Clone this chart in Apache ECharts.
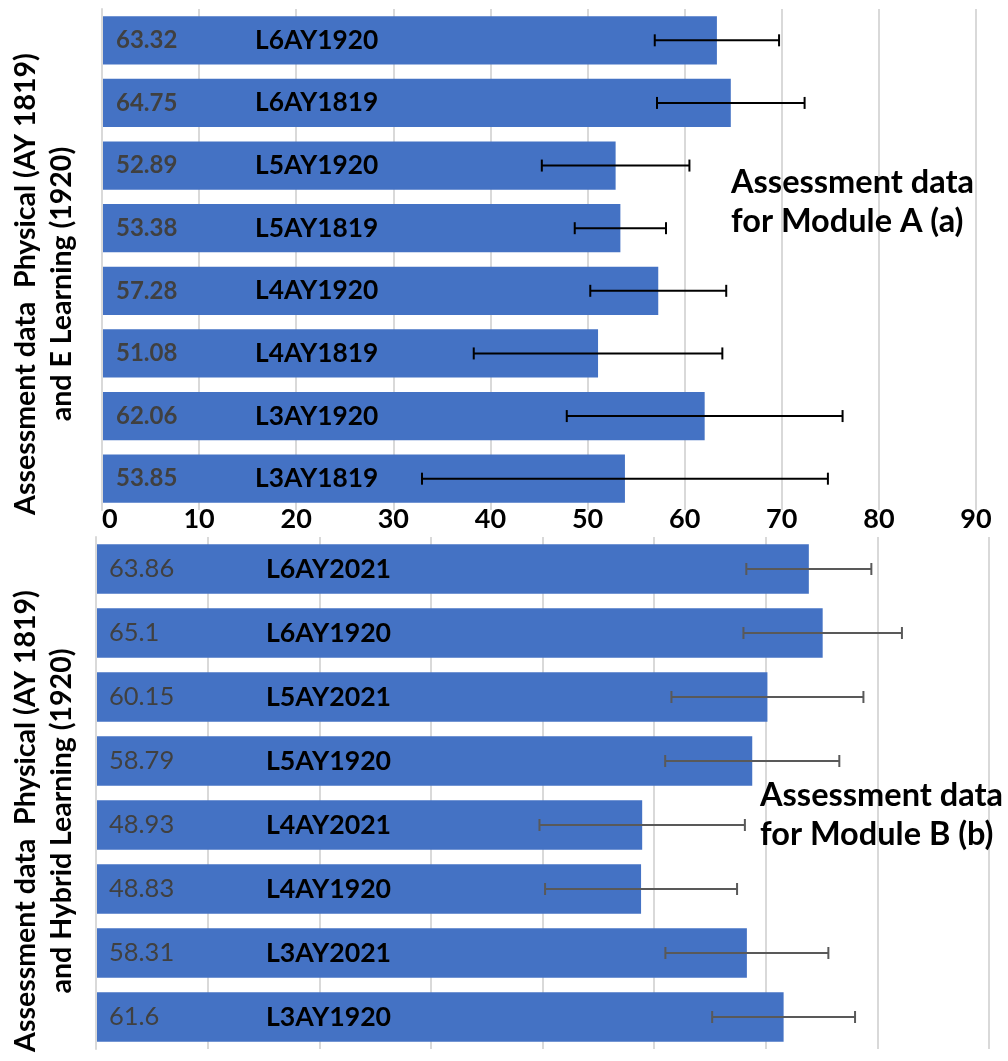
<!DOCTYPE html>
<html>
<head>
<meta charset="utf-8">
<script src="https://cdn.jsdelivr.net/npm/echarts@6/dist/echarts.min.js"></script>
<style>
html,body{margin:0;padding:0;background:#fff;}
#chart{width:1008px;height:1061px;}
</style>
</head>
<body>
<div id="chart"></div>
<script>
// ---- Data (top to bottom as displayed) ----
var catsA = ['L6AY1920', 'L6AY1819', 'L5AY1920', 'L5AY1819', 'L4AY1920', 'L4AY1819', 'L3AY1920', 'L3AY1819'];
var valsA = [63.32, 64.75, 52.89, 53.38, 57.28, 51.08, 62.06, 53.85];
var errA  = [6.4, 7.6, 7.6, 4.7, 7.0, 12.8, 14.2, 20.9];

var catsB = ['L6AY2021', 'L6AY1920', 'L5AY2021', 'L5AY1920', 'L4AY2021', 'L4AY1920', 'L3AY2021', 'L3AY1920'];
var valsB = [63.86, 65.1, 60.15, 58.79, 48.93, 48.83, 58.31, 61.6];
var errB  = [5.6, 7.1, 8.6, 7.8, 9.2, 8.6, 7.3, 6.4];

var xTicksA = [0, 10, 20, 30, 40, 50, 60, 70, 80, 90];

var titleA = 'Assessment data\nfor Module A (a)';
var titleB = 'Assessment data\nfor Module B (b)';
var yNameA = 'Assessment data  Physical (AY 1819)\nand E Learning (1920)';
var yNameB = 'Assessment data  Physical (AY 1819)\nand Hybrid Learning (1920)';

// ---- Build ----
var FONT = 'Lato, Carlito, "Open Sans", sans-serif';
var BAR = '#4472C4';
var GRIDC = '#d9d9d9';

function errData(vals, errs) {
  return vals.map(function (v, i) { return [i, v - errs[i], v + errs[i]]; });
}
function errRender(color, cap, lw) {
  return function (params, api) {
    var idx = api.value(0);
    var p1 = api.coord([api.value(1), idx]);
    var p2 = api.coord([api.value(2), idx]);
    var st = { stroke: color, lineWidth: lw };
    return {
      type: 'group',
      children: [
        { type: 'line', shape: { x1: p1[0], y1: p1[1], x2: p2[0], y2: p2[1] }, style: st },
        { type: 'line', shape: { x1: p1[0], y1: p1[1] - cap, x2: p1[0], y2: p1[1] + cap }, style: st },
        { type: 'line', shape: { x1: p2[0], y1: p2[1] - cap, x2: p2[0], y2: p2[1] + cap }, style: st }
      ]
    };
  };
}

var chart = echarts.init(document.getElementById('chart'), null, { renderer: 'canvas' });
chart.setOption({
  animation: false,
  backgroundColor: '#fff',
  textStyle: { fontFamily: FONT },
  title: [
    { text: titleA, left: 731, top: 163, padding: 0,
      textStyle: { fontFamily: FONT, fontSize: 32.5, fontWeight: 'bold', color: '#000', lineHeight: 39 } },
    { text: titleB, left: 760, top: 776, padding: 0,
      textStyle: { fontFamily: FONT, fontSize: 32.5, fontWeight: 'bold', color: '#000', lineHeight: 39 } }
  ],
  grid: [
    { left: 101, right: 32, top: 9, height: 501, containLabel: false },
    { left: 95, right: 19, top: 537, height: 512, containLabel: false }
  ],
  xAxis: [
    { gridIndex: 0, type: 'value', min: xTicksA[0], max: xTicksA[xTicksA.length - 1], interval: 10,
      axisLine: { show: false }, axisTick: { show: false },
      splitLine: { show: true, lineStyle: { color: GRIDC, width: 2 } },
      axisLabel: { show: true, margin: -4, alignMinLabel: 'left', fontFamily: FONT, fontSize: 27,
        fontWeight: 'bold', color: '#000' } },
    { gridIndex: 1, type: 'value', min: 0, max: 80, interval: 10,
      axisLine: { show: false }, axisTick: { show: false },
      splitLine: { show: true, lineStyle: { color: GRIDC, width: 2 } },
      axisLabel: { show: false } }
  ],
  yAxis: [
    { gridIndex: 0, type: 'category', data: catsA, inverse: true, z: 10,
      axisLine: { show: true, lineStyle: { color: GRIDC, width: 2 } },
      axisTick: { show: false },
      axisLabel: { inside: true, margin: 153, align: 'left', fontFamily: FONT, fontSize: 26.3,
        fontWeight: 'bold', color: '#000', padding: [8, 0, 0, 0] },
      name: yNameA, nameLocation: 'middle', nameRotate: 90, nameGap: 22,
      nameTextStyle: { fontFamily: FONT, fontSize: 28.5, fontWeight: 'bold', color: '#000',
        lineHeight: 36, padding: [0, 49, 0, 0] } },
    { gridIndex: 1, type: 'category', data: catsB, inverse: true, z: 10,
      axisLine: { show: true, lineStyle: { color: GRIDC, width: 2 } },
      axisTick: { show: false },
      axisLabel: { inside: true, margin: 170, align: 'left', fontFamily: FONT, fontSize: 26.7,
        fontWeight: 'bold', color: '#000' },
      name: yNameB, nameLocation: 'middle', nameRotate: 90, nameGap: 16,
      nameTextStyle: { fontFamily: FONT, fontSize: 28.5, fontWeight: 'bold', color: '#000',
        lineHeight: 36, padding: [0, 56, 0, 0] } }
  ],
  series: [
    { type: 'bar', xAxisIndex: 0, yAxisIndex: 0, data: valsA, barCategoryGap: '23%',
      itemStyle: { color: BAR },
      label: { show: true, position: 'insideLeft', distance: 14, formatter: '{c}',
        fontFamily: FONT, fontSize: 24, fontWeight: 'bold', color: '#404040' } },
    { type: 'custom', xAxisIndex: 0, yAxisIndex: 0, data: errData(valsA, errA),
      encode: { x: [1, 2], y: 0 }, clip: false, z: 5,
      renderItem: errRender('#000', 6, 2) },
    { type: 'bar', xAxisIndex: 1, yAxisIndex: 1, data: valsB, barCategoryGap: '23%',
      itemStyle: { color: BAR },
      label: { show: true, position: 'insideLeft', distance: 13, formatter: '{c}',
        fontFamily: FONT, fontSize: 25.5, fontWeight: 'normal', color: '#404040' } },
    { type: 'custom', xAxisIndex: 1, yAxisIndex: 1, data: errData(valsB, errB),
      encode: { x: [1, 2], y: 0 }, clip: false, z: 5,
      renderItem: errRender('#595959', 6, 2) }
  ]
});
</script>
</body>
</html>
